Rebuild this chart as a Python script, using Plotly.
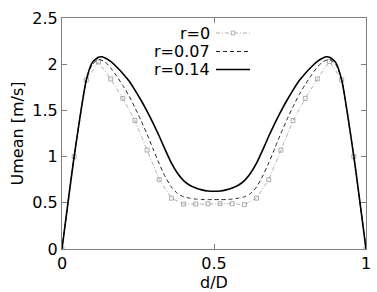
import plotly.graph_objects as go

# r = 0 (markers every 0.04)
d_r0 = [0.00, 0.04, 0.08, 0.12, 0.16, 0.20, 0.24, 0.28, 0.32, 0.36, 0.40, 0.44, 0.48,
        0.52, 0.56, 0.60, 0.64, 0.68, 0.72, 0.76, 0.80, 0.84, 0.88, 0.92, 0.96, 1.00]
u_r0 = [0.00, 1.00, 1.83, 2.025, 1.84, 1.63, 1.39, 1.07, 0.75, 0.55, 0.486, 0.486, 0.49,
        0.49, 0.49, 0.48, 0.55, 0.75, 1.07, 1.39, 1.63, 1.84, 2.03, 1.83, 1.00, 0.00]

# r = 0.07
d_r07 = [0.00, 0.04, 0.08, 0.10, 0.12, 0.14, 0.16, 0.18, 0.20, 0.22, 0.24, 0.26, 0.28,
         0.30, 0.32, 0.34, 0.36, 0.38, 0.40, 0.42, 0.44, 0.46, 0.48, 0.50,
         0.52, 0.54, 0.56, 0.58, 0.60, 0.62, 0.64, 0.66, 0.68, 0.70, 0.72, 0.74,
         0.76, 0.78, 0.80, 0.82, 0.84, 0.86, 0.88, 0.90, 0.92, 0.96, 1.00]
u_r07 = [0.00, 1.00, 1.83, 2.00, 2.05, 2.03, 1.96, 1.87, 1.77, 1.66, 1.53, 1.39, 1.24,
         1.08, 0.92, 0.78, 0.67, 0.60, 0.565, 0.55, 0.54, 0.535, 0.535, 0.535,
         0.535, 0.535, 0.54, 0.55, 0.565, 0.60, 0.67, 0.79, 0.93, 1.09, 1.25, 1.40,
         1.54, 1.67, 1.78, 1.88, 1.97, 2.03, 2.05, 2.00, 1.83, 1.00, 0.00]

# r = 0.14
d_r14 = [0.00, 0.04, 0.08, 0.10, 0.12, 0.13, 0.14, 0.16, 0.18, 0.20, 0.22, 0.24, 0.26, 0.28,
         0.30, 0.32, 0.34, 0.36, 0.38, 0.40, 0.42, 0.44, 0.46, 0.48, 0.50,
         0.52, 0.54, 0.56, 0.58, 0.60, 0.62, 0.64, 0.66, 0.68, 0.70, 0.72,
         0.74, 0.76, 0.78, 0.80, 0.82, 0.84, 0.86, 0.87, 0.88, 0.90, 0.92, 0.96, 1.00]
u_r14 = [0.00, 1.00, 1.83, 2.02, 2.075, 2.08, 2.07, 2.03, 1.97, 1.90, 1.82, 1.72, 1.61, 1.49,
         1.36, 1.22, 1.07, 0.93, 0.82, 0.74, 0.69, 0.66, 0.64, 0.628, 0.625,
         0.628, 0.64, 0.66, 0.69, 0.74, 0.82, 0.93, 1.07, 1.22, 1.36, 1.49,
         1.61, 1.72, 1.82, 1.90, 1.97, 2.03, 2.07, 2.08, 2.075, 2.02, 1.83, 1.00, 0.00]

labels = ["r=0", "r=0.07", "r=0.14"]
x_ticks = [0, 0.5, 1]
x_tick_text = ["0", "0.5", "1"]
y_ticks = [0, 0.5, 1, 1.5, 2, 2.5]
y_tick_text = ["0", "0.5", "1", "1.5", "2", "2.5"]

FONT = "DejaVu Sans"
FS = 16
GREY = "#9a9a9a"
DASH07 = "4px,3px"
DASH0 = "4px,2px,1px,2px"

fig = go.Figure()
fig.add_trace(go.Scatter(x=d_r0, y=u_r0, mode="lines+markers", name=labels[0],
                         line=dict(color=GREY, width=0.8, dash=DASH0),
                         marker=dict(symbol="square-open", size=4, color=GREY, line=dict(width=0.8))))
fig.add_trace(go.Scatter(x=d_r07, y=u_r07, mode="lines", name=labels[1],
                         line=dict(color="#222222", width=1, dash=DASH07, shape="spline", smoothing=0.6)))
fig.add_trace(go.Scatter(x=d_r14, y=u_r14, mode="lines", name=labels[2],
                         line=dict(color="black", width=1.6, shape="spline", smoothing=0.6)))

# gnuplot-style key: text right-aligned, sample to the right
W, H = 377, 292
ml, mr, mt, mb = 62, 11, 18, 43
pw, ph = W - ml - mr, H - mt - mb
rows_px = [33, 51.5, 69.5]
text_right_px = 212
samp_x0, samp_x1 = 216, 250
styles = [dict(color=GREY, width=0.8, dash=DASH0),
          dict(color="#222222", width=1, dash=DASH07),
          dict(color="black", width=1.6)]
for lab, ypx, st in zip(labels, rows_px, styles):
    yp = 1 - (ypx - mt) / ph
    fig.add_annotation(x=(text_right_px - ml) / pw, y=yp, xref="paper", yref="paper",
                       text=lab, showarrow=False, xanchor="right", yanchor="middle",
                       font=dict(family=FONT, size=FS, color="black"))
    fig.add_shape(type="line", xref="paper", yref="paper",
                  x0=(samp_x0 - ml) / pw, x1=(samp_x1 - ml) / pw, y0=yp, y1=yp, line=st)
# marker on r=0 key sample
ym = 1 - (rows_px[0] - mt) / ph
xm = ((samp_x0 + samp_x1) / 2 - ml) / pw
fig.add_shape(type="rect", xref="paper", yref="paper",
              x0=xm - 1.8 / pw, x1=xm + 1.8 / pw, y0=ym - 1.8 / ph, y1=ym + 1.8 / ph,
              line=dict(color=GREY, width=0.8), fillcolor="white")

axis_common = dict(showline=True, linecolor="#7f7f7f", linewidth=1, mirror="ticks",
                   ticks="inside", ticklen=5, tickcolor="#7f7f7f", showgrid=False,
                   zeroline=False, automargin=False,
                   tickfont=dict(family=FONT, size=FS, color="black"))

fig.update_layout(
    width=W, height=H,
    margin=dict(l=ml, r=mr, t=mt, b=mb),
    paper_bgcolor="white", plot_bgcolor="white",
    showlegend=False,
    xaxis=dict(range=[0, 1], tickvals=x_ticks, ticktext=x_tick_text,
               title=dict(text="d/D", font=dict(family=FONT, size=FS, color="black"), standoff=0),
               **axis_common),
    yaxis=dict(range=[0, 2.5], tickvals=y_ticks, ticktext=y_tick_text,
               title=dict(text="Umean [m/s]", font=dict(family=FONT, size=FS, color="black"), standoff=4),
               **axis_common),
)

fig.write_html("out.html", config={"displayModeBar": False},
               post_script="document.body.style.margin='0';document.body.style.padding='0';")
